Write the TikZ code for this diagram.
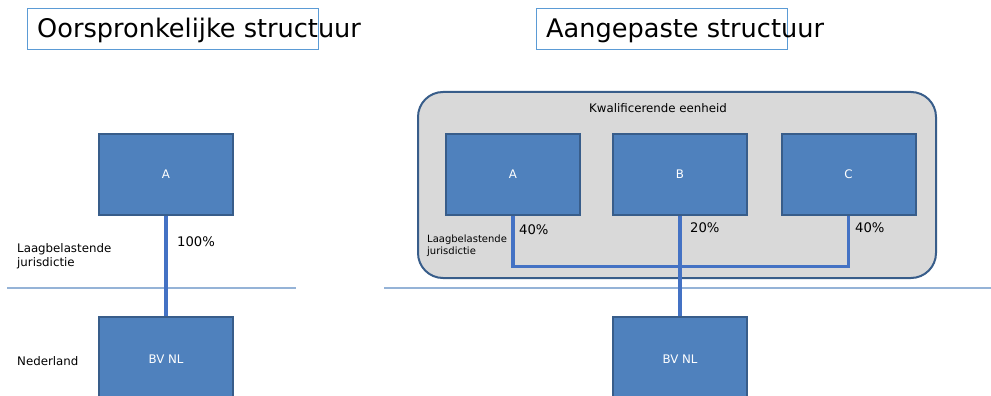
\documentclass[tikz,border=0pt]{standalone}
\usepackage{fontspec}
\setmainfont{DejaVu Sans}
\usetikzlibrary{positioning}
\definecolor{mblue}{RGB}{79,129,189}
\definecolor{dblue}{RGB}{56,93,138}
\definecolor{lblue}{RGB}{68,114,196}
\definecolor{sblue}{RGB}{149,179,215}
\definecolor{tblue}{RGB}{91,155,213}
\definecolor{mgray}{RGB}{217,217,217}
\tikzset{entity/.style = {draw=dblue, fill=mblue, line width=2pt, text=white,
                          minimum width=134pt, minimum height=81pt,
                          font=\fontsize{11.8}{14}\selectfont}}
\tikzset{group/.style = {draw=dblue, fill=mgray, line width=2pt, rounded corners=25pt,
                         minimum width=518pt, minimum height=186pt}}
\tikzset{link/.style = {lblue, line width=3.5pt}}
\tikzset{sep/.style = {sblue, line width=1.5pt}}
\tikzset{tframe/.style = {tblue, line width=1pt}}
\tikzset{title/.style = {anchor=base west, inner sep=0pt, font=\fontsize{25.6}{30}\selectfont}}
\tikzset{pct/.style = {anchor=west, inner sep=0pt, font=\fontsize{13.2}{15}\selectfont}}
\tikzset{lbl/.style = {anchor=west, inner sep=0pt, align=left, font=\fontsize{11.8}{14}\selectfont}}
\tikzset{slbl/.style = {anchor=west, inner sep=0pt, align=left, font=\fontsize{10}{12}\selectfont}}

\begin{document}
\begin{tikzpicture}[x=1pt, y=-1pt]
      \useasboundingbox (0, 0) rectangle (991, 396);
      \draw [tframe] (27, 9) rectangle (318, 50);
      \node [title] (ttlorig) at (37, 38) {Oorspronkelijke structuur};
      \draw [tframe] (536, 9) rectangle (787, 50);
      \node [title] (ttlaang) at (546, 38) {Aangepaste structuur};
      \draw [sep] (7, 288) -- (296, 288);
      \draw [sep] (384, 288) -- (991, 288);
      \node [entity] (aorig) at (166, 174) {A};
      \node [entity, minimum height=84pt] (nlorig) at (166, 359) {BV NL};
      \draw [link] (aorig) -- (nlorig);
      \node [pct] (porig) at (177, 242) {100\%};
      \node [lbl] (laagorig) at (17, 256) {Laagbelastende\\jurisdictie};
      \node [lbl] (nederland) at (17, 361) {Nederland};
      \node [group] (eenheid) at (677, 185) {};
      \node [lbl, anchor=center] (kwal) at (658, 108) {Kwalificerende eenheid};
      \node [entity] (aaang) at (513, 174) {A};
      \node [entity] (baang) at (680, 174) {B};
      \node [entity] (caang) at (848.5, 174) {C};
      \node [entity, minimum height=84pt] (nlaang) at (680, 359) {BV NL};
      \draw [link] (aaang.south) -- ++(0, 51) -| (caang.south);
      \draw [link] (baang) -- (nlaang);
      \node [pct] (pa) at (519, 230) {40\%};
      \node [pct] (pb) at (690, 228) {20\%};
      \node [pct] (pc) at (855, 228) {40\%};
      \node [slbl] (laagaang) at (427, 246) {Laagbelastende\\jurisdictie};
    \end{tikzpicture}
\end{document}
